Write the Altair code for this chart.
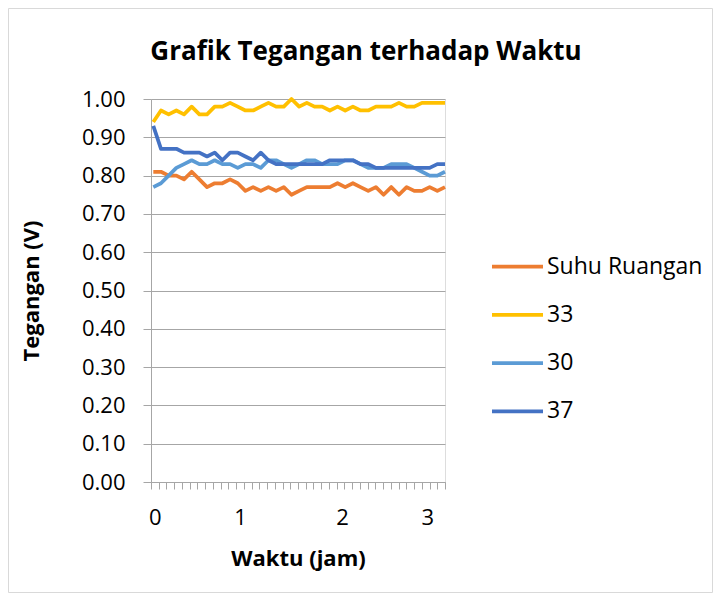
import altair as alt
import pandas as pd

# ---------------- data ----------------
series_names = ["Suhu Ruangan", "33", "30", "37"]
series_colors = ["#ED7D31", "#FFC000", "#5B9BD5", "#4472C4"]

suhu_ruangan = [0.81, 0.81, 0.80, 0.80, 0.79, 0.81, 0.79, 0.77, 0.78, 0.78,
                0.79, 0.78, 0.76, 0.77, 0.76, 0.77, 0.76, 0.77, 0.75, 0.76,
                0.77, 0.77, 0.77, 0.77, 0.78, 0.77, 0.78, 0.77, 0.76, 0.77,
                0.75, 0.77, 0.75, 0.77, 0.76, 0.76, 0.77, 0.76, 0.77]
s33 = [0.94, 0.97, 0.96, 0.97, 0.96, 0.98, 0.96, 0.96, 0.98, 0.98,
       0.99, 0.98, 0.97, 0.97, 0.98, 0.99, 0.98, 0.98, 1.00, 0.98,
       0.99, 0.98, 0.98, 0.97, 0.98, 0.97, 0.98, 0.97, 0.97, 0.98,
       0.98, 0.98, 0.99, 0.98, 0.98, 0.99, 0.99, 0.99, 0.99]
s30 = [0.77, 0.78, 0.80, 0.82, 0.83, 0.84, 0.83, 0.83, 0.84, 0.83,
       0.83, 0.82, 0.83, 0.83, 0.82, 0.84, 0.84, 0.83, 0.82, 0.83,
       0.84, 0.84, 0.83, 0.83, 0.83, 0.84, 0.84, 0.83, 0.82, 0.82,
       0.82, 0.83, 0.83, 0.83, 0.82, 0.81, 0.80, 0.80, 0.81]
s37 = [0.93, 0.87, 0.87, 0.87, 0.86, 0.86, 0.86, 0.85, 0.86, 0.84,
       0.86, 0.86, 0.85, 0.84, 0.86, 0.84, 0.83, 0.83, 0.83, 0.83,
       0.83, 0.83, 0.83, 0.84, 0.84, 0.84, 0.84, 0.83, 0.83, 0.82,
       0.82, 0.82, 0.82, 0.82, 0.82, 0.82, 0.82, 0.83, 0.83]

x_label_text = ["0", "1", "2", "3"]
x_label_pos = [0.2, 11.3, 24.6, 35.7]
y_ticks = [0.0, 0.1, 0.2, 0.3, 0.4, 0.5, 0.6, 0.7, 0.8, 0.9, 1.0]

# ---------------- table ----------------
rows = []
for name, vals in zip(series_names, [suhu_ruangan, s33, s30, s37]):
    for i, v in enumerate(vals):
        rows.append({"idx": i, "val": v, "series": name})
df = pd.DataFrame(rows)

x_min, x_max = -0.3, 38.0
n_ticks = 39
tick_pos = [round(x_min + j * (x_max - x_min) / (n_ticks - 1), 4) for j in range(n_ticks)]

label_expr = " : ".join(
    f"datum.value == {p} ? '{t}'" for p, t in zip(x_label_pos, x_label_text)
) + " : ''"
label_test = "indexof([" + ",".join(str(p) for p in x_label_pos) + "], datum.value) >= 0"

FONT = "Open Sans"
GRAY = "#a6a6a6"
W, H = 294, 383
PAD = {"left": 143, "top": 91, "right": 268, "bottom": 111}

lines = alt.Chart(df).mark_line(strokeWidth=3.75, strokeJoin="round").encode(
    x=alt.X(
        "idx:Q",
        scale=alt.Scale(domain=[x_min, x_max], nice=False, zero=False),
        title="Waktu (jam)",
        axis=alt.Axis(
            values=tick_pos + x_label_pos,
            labelExpr=label_expr,
            tickOpacity={"condition": {"test": label_test, "value": 0}, "value": 1},
            labelOverlap=False,
            labelFlush=False,
            grid=False,
            tickSize=7,
            tickColor=GRAY,
            domainColor=GRAY,
            labelFont=FONT,
            labelFontSize=22,
            labelColor="black",
            labelBaseline="middle",
            labelPadding=28,
            titleFont=FONT,
            titleFontSize=22,
            titleFontWeight="bold",
            titleColor="black",
            titleY=76,
            titleBaseline="middle",
        ),
    ),
    y=alt.Y(
        "val:Q",
        scale=alt.Scale(domain=[0, 1], nice=False, zero=True),
        title="Tegangan (V)",
        axis=alt.Axis(
            values=y_ticks,
            format=".2f",
            grid=True,
            gridColor=GRAY,
            tickSize=8,
            tickColor=GRAY,
            domainColor=GRAY,
            labelFont=FONT,
            labelFontSize=22,
            labelColor="black",
            labelPadding=18,
            titleFont=FONT,
            titleFontSize=22,
            titleFontWeight="bold",
            titleColor="black",
            titleX=-120,
            titleY=H / 2,
            titleAlign="center",
            titleBaseline="middle",
        ),
    ),
    color=alt.Color(
        "series:N",
        scale=alt.Scale(domain=series_names, range=series_colors),
        legend=alt.Legend(
            title=None,
            orient="none",
            legendX=339,
            legendY=140,
            symbolType="stroke",
            symbolSize=2601,
            symbolStrokeWidth=3.75,
            labelFont=FONT,
            labelFontSize=23,
            labelColor="black",
            labelOffset=2,
            rowPadding=8.3,
            padding=0,
        ),
    ),
)

frame = alt.Chart(pd.DataFrame({"a": [0]})).mark_rect(
    fillOpacity=0, stroke="#d9d9d9", strokeWidth=1
).encode(
    x=alt.value(-PAD["left"] + 0.5),
    x2=alt.value(W + PAD["right"] - 0.5),
    y=alt.value(-PAD["top"] + 0.5),
    y2=alt.value(H + PAD["bottom"] - 0.5),
)

chart = alt.layer(frame, lines).properties(
    width=W,
    height=H,
    padding=PAD,
    autosize=alt.AutoSizeParams(type="none"),
    title=alt.TitleParams(
        "Grafik Tegangan terhadap Waktu",
        font=FONT,
        fontSize=26,
        fontWeight="bold",
        color="black",
        dx=68,
        dy=PAD["top"] + 24,
        offset=37,
        baseline="alphabetic",
    ),
).configure_view(strokeWidth=0).configure(background="white")

chart.save("out.html", embed_options={"renderer": "svg", "actions": False})
